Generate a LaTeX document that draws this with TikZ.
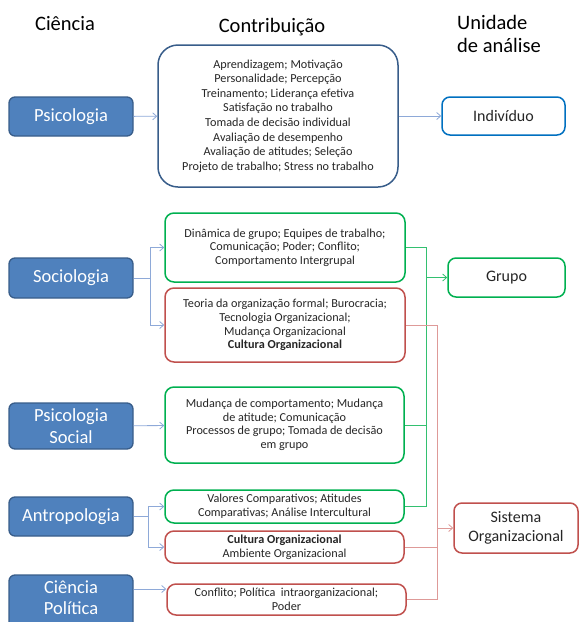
\documentclass[tikz,border=0pt]{standalone}
\usepackage{fontspec}
\setmainfont{Carlito}
\usetikzlibrary{arrows.meta}
\definecolor{bluefill}{HTML}{4F81BD}
\definecolor{blueedge}{HTML}{385D8A}
\definecolor{indedge}{HTML}{0070C0}
\definecolor{greenedge}{HTML}{00B050}
\definecolor{rededge}{HTML}{C0504D}
\definecolor{blueline}{HTML}{8EA9D8}
\definecolor{greenline}{HTML}{33C070}
\definecolor{redline}{HTML}{DE9A98}
\definecolor{txt}{HTML}{262626}
\tikzset{
  x=1pt, y=1pt,
  science/.style={draw=blueedge, fill=bluefill, line width=1.3pt, rounded corners=6pt,
    text=white, font=\fontsize{18.5}{22}\selectfont, align=center, inner sep=0pt},
  contrib/.style={line width=1.5pt, rounded corners=9pt, fill=white, text=txt,
    font=\fontsize{12.2}{13.6}\selectfont, align=center, inner sep=0pt},
  unit/.style={line width=1.5pt, rounded corners=8pt, fill=white, text=txt,
    font=\fontsize{16}{19}\selectfont, align=center, inner sep=0pt},
  header/.style={text=black, font=\fontsize{20.5}{23}\selectfont, align=left, inner sep=0pt},
  conn/.style={line width=0.8pt, -{Straight Barb[length=4pt,width=7pt]}},
  link/.style={line width=0.8pt},
}
\begin{document}
\begin{tikzpicture}
\useasboundingbox (0,0) rectangle (579,-622);

% column headings
\node[header, anchor=base] (hsci) at (65,-30) {Ciência};
\node[header, anchor=base] (hcon) at (272,-32) {Contribuição};
\node[header, anchor=north west] (hunit) at (457,-15.5) {Unidade\\de análise};

% sciences
\node[science, minimum width=124, minimum height=39] (psi) at (71,-116.5) {Psicologia};
\node[science, minimum width=124, minimum height=40] (soc) at (71,-278) {Sociologia};
\node[science, minimum width=124, minimum height=46] (psoc) at (71,-426) {Psicologia\\Social};
\node[science, minimum width=124, minimum height=39] (ant) at (71,-516.5) {Antropologia};
\node[science, minimum width=124, minimum height=54, text depth=9pt,
      font=\fontsize{18.5}{20.5}\selectfont] (cpol) at (71,-602) {Ciência\\Política};

% contributions
\node[contrib, draw=blueedge, rounded corners=20pt, minimum width=240, minimum height=142,
      font=\fontsize{12.2}{14.6}\selectfont] (big) at (278,-116)
  {Aprendizagem; Motivação\\Personalidade; Percepção\\Treinamento; Liderança efetiva\\
   Satisfação no trabalho\\Tomada de decisão individual\\Avaliação de desempenho\\
   Avaliação de atitudes; Seleção\\Projeto de trabalho; Stress no trabalho};
\node[contrib, draw=greenedge, minimum width=240, minimum height=69] (g1) at (285,-247.5)
  {Dinâmica de grupo; Equipes de trabalho;\\Comunicação; Poder; Conflito;\\Comportamento Intergrupal};
\node[contrib, draw=rededge, minimum width=240, minimum height=74] (r1) at (285,-325)
  {Teoria da organização formal; Burocracia;\\Tecnologia Organizacional;\\Mudança Organizacional\\\textbf{Cultura Organizacional}};
\node[contrib, draw=greenedge, minimum width=239, minimum height=76] (g2) at (284.5,-425)
  {Mudança de comportamento; Mudança\\de atitude; Comunicação\\Processos de grupo; Tomada de decisão\\em grupo};
\node[contrib, draw=greenedge, minimum width=239, minimum height=33] (g3) at (284.5,-506.5)
  {Valores Comparativos; Atitudes\\Comparativas; Análise Intercultural};
\node[contrib, draw=rededge, minimum width=239, minimum height=32] (r2) at (284.5,-547)
  {\textbf{Cultura Organizacional}\\Ambiente Organizacional};
\node[contrib, draw=rededge, minimum width=239, minimum height=31] (r3) at (286.5,-599.5)
  {Conflito; Política \ intraorganizacional;\\Poder};

% units of analysis
\node[unit, draw=indedge, minimum width=123, minimum height=38] (ind) at (503.5,-116) {Indivíduo};
\node[unit, draw=greenedge, minimum width=117, minimum height=39] (grp) at (506.5,-277.5) {Grupo};
\node[unit, draw=rededge, minimum width=124, minimum height=50] (sis) at (516,-528) {Sistema\\Organizacional};

% science -> contribution
\draw[conn, blueline] (psi) -- (big);
\draw[conn, blueline] (big) -- (ind);
\coordinate (sfork) at (150,-278);
\draw[link, blueline] (soc.east) -- (sfork);
\draw[conn, blueline] (sfork) |- (g1.west);
\draw[conn, blueline] (sfork) |- (r1.west);
\draw[conn, blueline] (psoc) -- (g2);
\coordinate (afork) at (148,-516.5);
\draw[link, blueline] (ant.east) -- (afork);
\draw[conn, blueline] (afork) |- (g3.west);
\draw[conn, blueline] (afork) |- (r2.west);
\coordinate (cpin) at (r3.west |- 0,-589);
\draw[conn, blueline] (cpol.east |- cpin) -- (cpin);

% contribution -> group
\coordinate (gbus) at (426,-277.5);
\draw[link, greenline] (g1.east) -| (gbus);
\draw[link, greenline] (g3.east) -| (gbus);
\draw[link, greenline] (g2.east) -- (g2.east -| gbus);
\draw[conn, greenline] (gbus) -- (grp.west);

% contribution -> organizational system
\coordinate (rbus) at (437,-528);
\draw[link, redline] (r1.east) -| (rbus);
\draw[link, redline] (r3.east) -| (rbus);
\draw[link, redline] (r2.east) -- (r2.east -| rbus);
\draw[conn, redline] (rbus) -- (sis.west);
\end{tikzpicture}
\end{document}
